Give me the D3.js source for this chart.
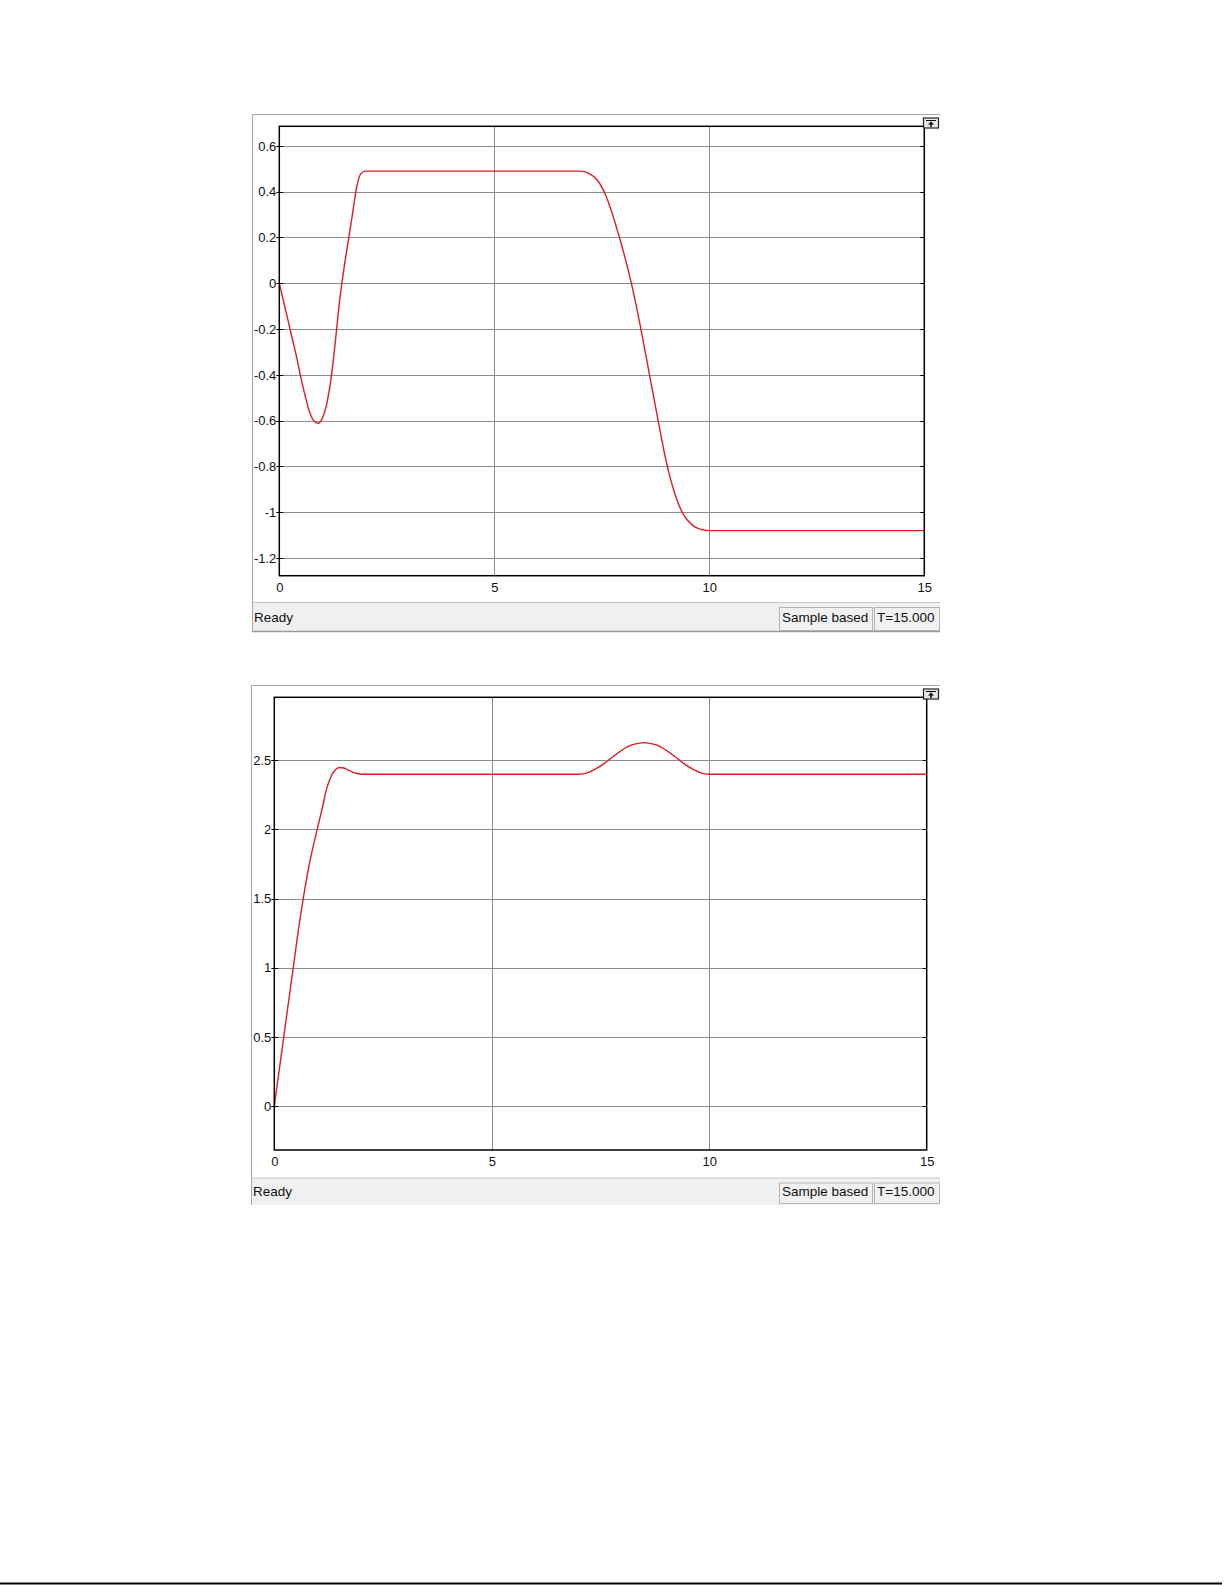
<!DOCTYPE html>
<html><head><meta charset="utf-8">
<script src="https://cdn.jsdelivr.net/npm/d3@7"></script>
<style>html,body{margin:0;padding:0;background:#fff;}svg{display:block;}</style>
</head><body>
<svg id="c" width="1225" height="1585"></svg>
<script>
// ---- data ----
const xTicks = [0, 5, 10, 15];
const y1Ticks = [0.6, 0.4, 0.2, 0, -0.2, -0.4, -0.6, -0.8, -1, -1.2];
const y2Ticks = [0, 0.5, 1, 1.5, 2, 2.5];
const y1TickLabels = ["0.6", "0.4", "0.2", "0", "-0.2", "-0.4", "-0.6", "-0.8", "-1", "-1.2"];
const y2TickLabels = ["0", "0.5", "1", "1.5", "2", "2.5"];
const xTickLabels = ["0", "5", "10", "15"];
const statusTexts = ["Ready", "Sample based", "T=15.000"];

const t1 = [0, 0.1, 0.2, 0.3, 0.4, 0.5, 0.6, 0.7, 0.8, 0.9, 1.0, 1.1, 1.2, 1.3, 1.4, 1.5, 1.6, 1.7, 1.8, 1.9, 2.0,
            7.0, 7.2, 7.4, 7.6, 7.8, 8.0, 8.2, 8.4, 8.6, 8.8, 9.0, 9.2, 9.4, 9.6, 9.8, 10.0, 15.0];
const v1 = [0, -0.08, -0.16, -0.24, -0.32, -0.41, -0.49, -0.56, -0.60, -0.612, -0.59, -0.53, -0.42, -0.26, -0.08, 0.06, 0.18, 0.30, 0.42, 0.48, 0.49,
            0.49, 0.48, 0.45, 0.38, 0.27, 0.14, -0.01, -0.19, -0.39, -0.59, -0.78, -0.92, -1.01, -1.055, -1.075, -1.08, -1.08];

const t2 = [0, 0.2, 0.4, 0.6, 0.8, 1.0, 1.1, 1.2, 1.3, 1.4, 1.5, 1.6, 1.7, 1.8, 1.9, 2.0,
            7.0, 7.2, 7.4, 7.6, 7.8, 8.0, 8.2, 8.4, 8.5, 8.6, 8.8, 9.0, 9.2, 9.4, 9.6, 9.8, 10.0, 15.0];
const v2 = [0, 0.46, 0.92, 1.37, 1.74, 2.02, 2.15, 2.29, 2.38, 2.43, 2.448, 2.445, 2.43, 2.415, 2.405, 2.40,
            2.40, 2.41, 2.44, 2.48, 2.53, 2.575, 2.61, 2.625, 2.628, 2.625, 2.61, 2.575, 2.53, 2.48, 2.44, 2.41, 2.40, 2.40];

// ---- drawing ----
const svg = d3.select("#c");
const FONT = "'Liberation Sans', Arial, sans-serif";

function scope(cfg) {
  const g = svg.append("g");
  const o = cfg.outer, p = cfg.plot;
  g.append("rect").attr("x", o.x).attr("y", o.y).attr("width", o.r - o.x).attr("height", o.b - o.y)
    .attr("fill", "#fff");
  g.append("line").attr("x1", o.x + 0.5).attr("x2", o.r).attr("y1", o.y + 0.5).attr("y2", o.y + 0.5).attr("stroke", "#a8a8a8");
  g.append("line").attr("x1", o.x + 0.5).attr("x2", o.x + 0.5).attr("y1", o.y).attr("y2", o.b).attr("stroke", "#a8a8a8");

  const x = d3.scaleLinear().domain([0, 15]).range([p.l, p.r]);
  const y = d3.scaleLinear().domain(cfg.ydom).range([p.b, p.t]);

  g.selectAll(".hg").data(cfg.yTicks).join("line")
    .attr("x1", p.l).attr("x2", p.r)
    .attr("y1", d => Math.round(y(d)) + 0.5).attr("y2", d => Math.round(y(d)) + 0.5)
    .attr("stroke", "#8c8c8c").attr("stroke-width", 1);
  g.selectAll(".vg").data(xTicks.slice(1, -1)).join("line")
    .attr("x1", d => Math.round(x(d)) + 0.5).attr("x2", d => Math.round(x(d)) + 0.5)
    .attr("y1", p.t).attr("y2", p.b)
    .attr("stroke", "#8c8c8c").attr("stroke-width", 1);

  const yAxis = d3.axisLeft(y).tickValues(cfg.yTicks).tickFormat((d, i) => cfg.yLabels[i]).tickSize(0).tickPadding(3);
  const ya = g.append("g").attr("transform", `translate(${p.l},0)`).call(yAxis);
  ya.select(".domain").remove();
  ya.selectAll("text").attr("font-family", FONT).attr("font-size", 13).attr("fill", "#111");

  const xAxis = d3.axisBottom(x).tickValues(xTicks).tickFormat((d, i) => xTickLabels[i]).tickSize(0).tickPadding(7);
  const xa = g.append("g").attr("transform", `translate(0,${p.b})`).call(xAxis);
  xa.select(".domain").remove();
  xa.selectAll("text").attr("font-family", FONT).attr("font-size", 13).attr("fill", "#111");

  g.selectAll(".tl").data(cfg.yTicks).join("line")
    .attr("x1", p.l - 3).attr("x2", p.l + 4)
    .attr("y1", d => Math.round(y(d)) + 0.5).attr("y2", d => Math.round(y(d)) + 0.5)
    .attr("stroke", "#000");
  g.selectAll(".tr").data(cfg.yTicks).join("line")
    .attr("x1", p.r - 4).attr("x2", p.r)
    .attr("y1", d => Math.round(y(d)) + 0.5).attr("y2", d => Math.round(y(d)) + 0.5)
    .attr("stroke", "#000");

  const data = cfg.t.map((tt, i) => [tt, cfg.v[i]]);
  g.append("path").datum(data)
    .attr("d", d3.line().x(d => x(d[0])).y(d => y(d[1])).curve(d3.curveMonotoneX))
    .attr("fill", "none").attr("stroke", "#e01b24").attr("stroke-width", 1.4);

  g.append("rect").attr("x", p.l).attr("y", p.t).attr("width", p.r - p.l).attr("height", p.b - p.t)
    .attr("fill", "none").attr("stroke", "#000").attr("stroke-width", 1.5);

  const bx = o.r - 17, by = o.y + 3.5;
  g.append("rect").attr("x", bx + 0.5).attr("y", by + 0.5).attr("width", 15).attr("height", 10)
    .attr("fill", "#e8e8e8").attr("stroke", "#222").attr("stroke-width", 1.2);
  g.append("line").attr("x1", bx + 3).attr("x2", bx + 13).attr("y1", by + 3).attr("y2", by + 3).attr("stroke", "#000");
  g.append("path").attr("d", `M${bx + 8},${by + 4} L${bx + 5},${by + 7} L${bx + 11},${by + 7} Z`).attr("fill", "#000");
  g.append("line").attr("x1", bx + 8).attr("x2", bx + 8).attr("y1", by + 6).attr("y2", by + 9.5).attr("stroke", "#000").attr("stroke-width", 1.5);

  const sb = cfg.status;
  g.append("rect").attr("x", o.x + 1).attr("y", sb).attr("width", o.r - o.x - 1).attr("height", o.b - sb)
    .attr("fill", "#f0f0f0");
  g.append("line").attr("x1", o.x + 1).attr("x2", o.r).attr("y1", sb + 0.5).attr("y2", sb + 0.5).attr("stroke", "#c8c8c8");
  if (cfg.shadow) {
    g.append("line").attr("x1", o.x).attr("x2", o.r).attr("y1", o.b - 0.5).attr("y2", o.b - 0.5).attr("stroke", "#9a9a9a").attr("stroke-width", 1.5);
  }
  const ty = sb + (o.b - sb) / 2 + 4.5;
  g.append("text").attr("x", o.x + 2).attr("y", ty).text(statusTexts[0])
    .attr("font-family", FONT).attr("font-size", 13.5).attr("fill", "#111");
  const boxes = [[o.r - 161, o.r - 67, statusTexts[1]], [o.r - 66, o.r, statusTexts[2]]];
  boxes.forEach(([a, b, txt]) => {
    g.append("rect").attr("x", a + 0.5).attr("y", sb + 5.5).attr("width", b - a - 1).attr("height", o.b - sb - 7)
      .attr("fill", "#f0f0f0").attr("stroke", "#b4b4b4");
    g.append("text").attr("x", a + 3).attr("y", ty).text(txt)
      .attr("font-family", FONT).attr("font-size", 13.5).attr("fill", "#111");
  });
}

scope({
  outer: { x: 252, y: 114, r: 940, b: 632 },
  plot: { l: 279.3, t: 126.3, r: 924.3, b: 575.7 },
  ydom: [-1.277, 0.6856],
  yTicks: y1Ticks, yLabels: y1TickLabels,
  t: t1, v: v1, status: 602, shadow: true
});
scope({
  outer: { x: 251, y: 685, r: 940, b: 1205 },
  plot: { l: 274.3, t: 697.3, r: 926.7, b: 1150 },
  ydom: [-0.318, 2.956],
  yTicks: y2Ticks, yLabels: y2TickLabels,
  t: t2, v: v2, status: 1177.5, shadow: false
});

svg.append("line").attr("x1", 0).attr("x2", 1222).attr("y1", 1583.5).attr("y2", 1583.5)
  .attr("stroke", "#000").attr("stroke-width", 2);
</script>
</body></html>
